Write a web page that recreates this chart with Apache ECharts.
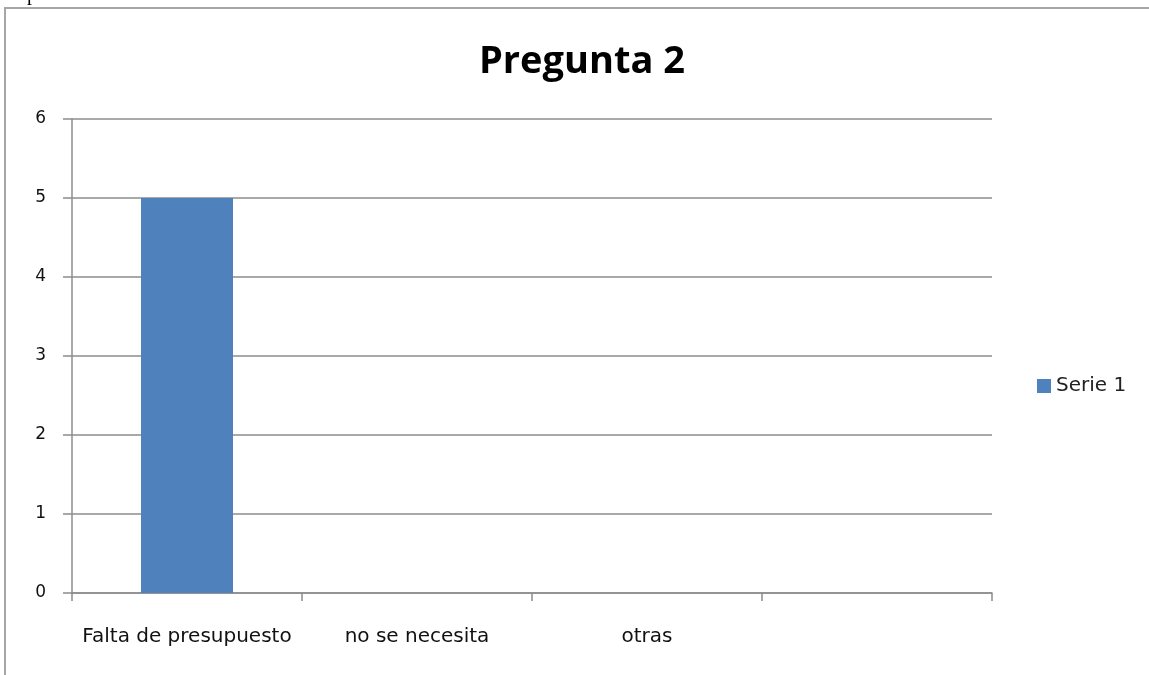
<!DOCTYPE html>
<html>
<head>
<meta charset="utf-8">
<script src="https://cdn.jsdelivr.net/npm/echarts@6/dist/echarts.min.js"></script>
<style>
html, body { margin: 0; padding: 0; background: #fff; }
#chart { width: 1149px; height: 675px; }
</style>
</head>
<body>
<div id="chart"></div>
<script>
const categories = ['Falta de presupuesto', 'no se necesita', 'otras', '']
const serie1 = [5, null, null, null]
const yTicks = [0, 1, 2, 3, 4, 5, 6]

const chart = echarts.init(document.getElementById('chart'))
const option = {
    animation: false,
    textStyle: { fontFamily: 'DejaVu Sans' },
    title: {
        text: 'Pregunta 2',
        left: 577,
        top: 38,
        textAlign: 'center',
        textStyle: { fontFamily: 'Open Sans', fontSize: 38, fontWeight: 'bold', color: '#000' }
    },
    graphic: [
        {
            type: 'rect',
            shape: { x: 5, y: 8, width: 1200, height: 720 },
            style: { fill: 'none', stroke: '#a6a6a6', lineWidth: 2 },
            silent: true
        },
        {
            type: 'text',
            left: 27,
            top: -15,
            style: { text: 'p', font: '20px "Liberation Serif"', fill: '#000' },
            silent: true
        }
    ],
    legend: {
        data: ['Serie 1'],
        left: 1032,
        top: 371,
        orient: 'vertical',
        icon: 'rect',
        itemWidth: 14,
        itemHeight: 14,
        textStyle: { fontFamily: 'DejaVu Sans', fontSize: 20, color: '#222' }
    },
    grid: {
        left: 72,
        right: 157,
        top: 119,
        bottom: 82,
        containLabel: false
    },
    xAxis: {
        type: 'category',
        data: categories,
        axisLine: { lineStyle: { color: '#8c8c8c', width: 1.5 } },
        axisTick: { show: true, length: 8, alignWithLabel: false, lineStyle: { color: '#8c8c8c', width: 1.5 } },
        axisLabel: { margin: 34, fontSize: 20, color: '#111', interval: 0 }
    },
    yAxis: {
        type: 'value',
        min: 0,
        max: yTicks[yTicks.length - 1],
        interval: 1,
        axisLine: { show: true, lineStyle: { color: '#8c8c8c', width: 1.5 } },
        axisTick: { show: true, length: 9, lineStyle: { color: '#8c8c8c', width: 1.5 } },
        axisLabel: { margin: 26, fontSize: 17, color: '#111', padding: [4, 0, 0, 0] },
        splitLine: { show: true, lineStyle: { color: '#8c8c8c', width: 1.5 } }
    },
    series: [
        {
            name: 'Serie 1',
            type: 'bar',
            data: serie1,
            barWidth: '40%',
            itemStyle: { color: '#4f81bd' }
        }
    ]
}
chart.setOption(option)
</script>
</body>
</html>
